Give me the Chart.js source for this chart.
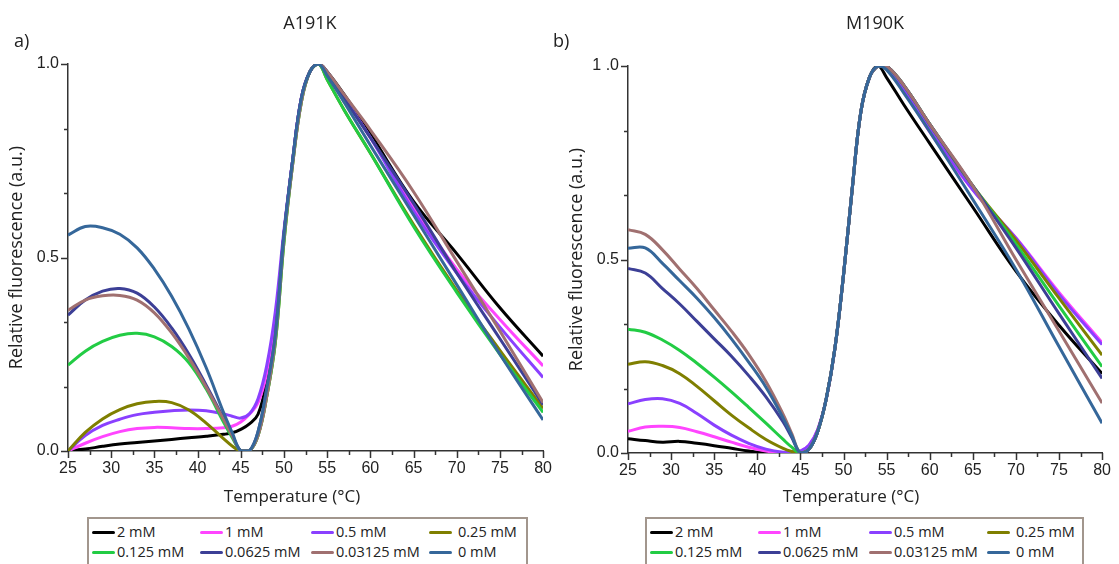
<!DOCTYPE html>
<html><head><meta charset="utf-8">
<script src="https://cdn.jsdelivr.net/npm/chart.js@4.4.1/dist/chart.umd.min.js"></script>
<style>
html,body{margin:0;padding:0;background:#fff;}
body{width:1119px;height:564px;overflow:hidden;position:relative;font-family:"Open Sans",sans-serif;color:#222;}
canvas{position:absolute;top:0;}
#ca{left:0;}
#cb{left:560px;}
.lab{position:absolute;font-size:18px;line-height:20px;white-space:nowrap;}
.ttl{transform:translateX(-50%);}
.xt{position:absolute;font-size:17px;line-height:20px;white-space:nowrap;transform:translateX(-50%);}
.legend{position:absolute;border:2px solid #a2968d;box-sizing:border-box;height:60px;}
.item{position:absolute;font-size:14.5px;line-height:18px;white-space:nowrap;display:flex;align-items:center;}
.sw{display:inline-block;width:23px;height:3px;border-radius:2px;margin-right:2px;}
</style></head>
<body>
<canvas id="ca" width="560" height="512"></canvas>
<canvas id="cb" width="559" height="512"></canvas>
<div class="lab" style="left:14px;top:30px;">a)</div>
<div class="lab ttl" style="left:310px;top:12px;">A191K</div>
<div class="lab" style="left:553px;top:30px;">b)</div>
<div class="lab ttl" style="left:875px;top:12px;">M190K</div>
<div class="xt" style="left:292px;top:486px;">Temperature (°C)</div>
<div class="xt" style="left:851px;top:486px;">Temperature (°C)</div>
<div class="legend" id="lega" style="left:87px;top:517px;width:441px;"></div>
<div class="legend" id="legb" style="left:645px;top:517px;width:439px;"></div>
<script>
// ---------- data ----------
const TEMPS = [25,27,29,31,33,35,37,39,41,43,44,45,46,47,48,49,50,51,52,53,54,55,57,60,65,70,75,80];
const SERIES = ['2 mM','1 mM','0.5 mM','0.25 mM','0.125 mM','0.0625 mM','0.03125 mM','0 mM'];
const COLORS = ['#000000','#ff45ff','#8a40ff','#7f7f00','#22cc44','#3c3f96','#a07070','#35679a'];
const Y_TICKS = [0, 0.5, 1];
const X_TICKS_STEP = 5;

// A191K
const A_2mM      = [0.0,0.005,0.012,0.018,0.022,0.026,0.03,0.034,0.038,0.043,0.047,0.056,0.07,0.095,0.18,0.32,0.56,0.75,0.91,0.98,1.0,0.98,0.92,0.82,0.645,0.51,0.37,0.245];
const A_1mM      = [0.0,0.02,0.037,0.05,0.058,0.061,0.06,0.058,0.058,0.06,0.064,0.075,0.095,0.125,0.2,0.33,0.56,0.75,0.91,0.98,1.0,0.97,0.91,0.81,0.63,0.47,0.34,0.22];
const A_05mM     = [0.0,0.04,0.066,0.082,0.094,0.1,0.104,0.106,0.104,0.096,0.09,0.085,0.096,0.135,0.22,0.36,0.57,0.75,0.91,0.98,1.0,0.97,0.91,0.81,0.62,0.46,0.32,0.19];
const A_025mM    = [0.0,0.048,0.083,0.107,0.122,0.128,0.125,0.106,0.072,0.032,0.013,0.0,0.0,0.04,0.14,0.28,0.54,0.74,0.90,0.98,1.0,0.96,0.88,0.77,0.585,0.415,0.26,0.11];
const A_0125mM   = [0.222,0.258,0.283,0.299,0.304,0.295,0.27,0.228,0.16,0.075,0.035,0.0,0.0,0.04,0.14,0.28,0.54,0.74,0.90,0.98,1.0,0.96,0.88,0.77,0.58,0.41,0.25,0.10];
const A_00625mM  = [0.351,0.39,0.413,0.42,0.408,0.372,0.318,0.25,0.17,0.085,0.042,0.0,0.0,0.05,0.16,0.30,0.56,0.75,0.91,0.98,1.0,0.98,0.91,0.81,0.64,0.46,0.29,0.12];
const A_003125mM = [0.364,0.39,0.401,0.402,0.39,0.357,0.305,0.24,0.165,0.082,0.04,0.0,0.0,0.04,0.14,0.29,0.55,0.74,0.90,0.98,1.0,0.98,0.92,0.83,0.67,0.49,0.31,0.125];
const A_0mM      = [0.558,0.58,0.577,0.56,0.525,0.47,0.40,0.315,0.215,0.10,0.048,0.0,0.0,0.05,0.16,0.30,0.56,0.75,0.91,0.98,1.0,0.97,0.90,0.79,0.61,0.43,0.25,0.08];

// M190K
const B_2mM      = [0.037,0.032,0.028,0.03,0.025,0.019,0.012,0.005,0.0,0.0,0.0,0.0,0.01,0.055,0.14,0.27,0.46,0.68,0.88,0.97,1.0,0.97,0.90,0.80,0.635,0.47,0.33,0.205];
const B_1mM      = [0.056,0.067,0.069,0.066,0.055,0.042,0.028,0.015,0.005,0.0,0.003,0.005,0.02,0.06,0.14,0.27,0.46,0.68,0.88,0.97,1.0,1.0,0.94,0.83,0.68,0.556,0.415,0.285];
const B_05mM     = [0.127,0.138,0.14,0.128,0.102,0.072,0.046,0.025,0.01,0.002,0.002,0.005,0.02,0.06,0.14,0.27,0.46,0.68,0.88,0.97,1.0,1.0,0.94,0.84,0.68,0.555,0.41,0.28];
const B_025mM    = [0.229,0.236,0.226,0.205,0.172,0.135,0.098,0.065,0.035,0.012,0.004,0.0,0.01,0.055,0.14,0.27,0.46,0.68,0.88,0.97,1.0,1.0,0.95,0.85,0.69,0.55,0.40,0.253];
const B_0125mM   = [0.32,0.312,0.292,0.265,0.232,0.196,0.158,0.118,0.077,0.035,0.015,0.0,0.01,0.055,0.14,0.27,0.46,0.68,0.88,0.97,1.0,1.0,0.95,0.85,0.69,0.54,0.38,0.223];
const B_00625mM  = [0.477,0.465,0.425,0.385,0.34,0.295,0.25,0.2,0.145,0.08,0.04,0.0,0.01,0.055,0.14,0.27,0.46,0.68,0.88,0.97,1.0,1.0,0.95,0.85,0.69,0.53,0.36,0.193];
const B_003125mM = [0.577,0.565,0.525,0.475,0.425,0.37,0.315,0.255,0.185,0.10,0.05,0.0,0.01,0.055,0.14,0.27,0.46,0.68,0.88,0.97,1.0,1.0,0.95,0.85,0.69,0.50,0.315,0.129];
const B_0mM      = [0.529,0.53,0.49,0.445,0.40,0.35,0.295,0.235,0.17,0.09,0.045,0.0,0.01,0.055,0.14,0.27,0.46,0.68,0.88,0.97,1.0,0.99,0.93,0.83,0.655,0.475,0.275,0.077];

const A_VALUES = [A_2mM,A_1mM,A_05mM,A_025mM,A_0125mM,A_00625mM,A_003125mM,A_0mM];
const B_VALUES = [B_2mM,B_1mM,B_05mM,B_025mM,B_0125mM,B_00625mM,B_003125mM,B_0mM];

// ---------- drawing ----------
const TICK_FONT = {family:'"Liberation Sans", Arial, sans-serif', size:16};
const TITLE_FONT = {family:'"Open Sans", sans-serif', size:18};
const AXIS_COLOR = '#333';

const minorTicks = {
  id:'minorTicks',
  afterDraw(chart){
    const {ctx, scales:{x, y}} = chart;
    ctx.save();
    ctx.strokeStyle = AXIS_COLOR; ctx.lineWidth = 1.5;
    ctx.beginPath();
    for (let v = x.min; v <= x.max + 1e-9; v += X_TICKS_STEP/2) {
      const px = Math.round(x.getPixelForValue(v)) + 0.5;
      const len = (Math.abs(v % X_TICKS_STEP) < 1e-6) ? 7 : 4;
      ctx.moveTo(px, y.bottom); ctx.lineTo(px, y.bottom + len);
    }
    for (let k = 0; k <= 6; k++) {
      const v = k/6;
      const py = Math.round(y.getPixelForValue(v)) + 0.5;
      const len = (k % 3 === 0) ? 7 : 4;
      ctx.moveTo(x.left, py); ctx.lineTo(x.left - len, py);
    }
    ctx.stroke();
    ctx.restore();
  }
};

function makeChart(id, values, padRight, padTop, topLabel){
  const datasets = SERIES.map((name,i)=>({
    label:name,
    data: TEMPS.map((t,j)=>({x:t, y:values[i][j]})),
    borderColor: COLORS[i],
    backgroundColor: COLORS[i],
    borderWidth: 3,
    pointRadius: 0,
    fill: false,
    tension: 0.4,
    order: SERIES.length - 1 - i
  }));
  return new Chart(document.getElementById(id), {
    type:'line',
    data:{datasets},
    plugins:[minorTicks],
    options:{
      responsive:false, animation:false,
      layout:{padding:{left:0,right:padRight,top:padTop,bottom:0}},
      plugins:{legend:{display:false}, tooltip:{enabled:false}},
      scales:{
        x:{
          type:'linear', min:25, max:80,
          afterBuildTicks(s){ const t=[]; for(let v=25; v<=80; v+=X_TICKS_STEP) t.push({value:v}); s.ticks=t; },
          afterFit(s){ s.height = 512 - (padTop + 387); },
          grid:{display:false, drawTicks:false},
          border:{display:true, color:AXIS_COLOR, width:1.5},
          ticks:{padding:8, color:'#222', font:TICK_FONT, maxRotation:0, autoSkip:false},
          title:{display:false}
        },
        y:{
          min:0, max:1,
          afterBuildTicks(s){ s.ticks = Y_TICKS.map(v=>({value:v})); },
          afterFit(s){ s.width = 68; },
          grid:{display:false, drawTicks:false},
          border:{display:true, color:AXIS_COLOR, width:1.5},
          ticks:{padding:9, color:'#222', font:TICK_FONT,
            callback:(v)=> (v===1 && topLabel) ? topLabel : Number(v).toFixed(1)},
          title:{display:true, text:'Relative fluorescence (a.u.)', color:'#222', font:TITLE_FONT, padding:{top:6,bottom:0}}
        }
      }
    }
  });
}

makeChart('ca', A_VALUES, 11, 64, null);
makeChart('cb', B_VALUES, 11, 66, '1 .0');

// HTML legends built from the series arrays
const COL_X = [3, 111, 222, 340];
function buildLegend(elId){
  const el = document.getElementById(elId);
  SERIES.forEach((name,i)=>{
    const d = document.createElement('div');
    d.className='item';
    d.style.left = COL_X[i%4] + 'px';
    d.style.top = (i<4 ? 4 : 24) + 'px';
    const sw = document.createElement('span');
    sw.className='sw'; sw.style.background = COLORS[i];
    if (i%4===3) sw.style.marginRight='6px';
    d.appendChild(sw);
    d.appendChild(document.createTextNode(name));
    el.appendChild(d);
  });
}
buildLegend('lega');
buildLegend('legb');
</script>
</body></html>
